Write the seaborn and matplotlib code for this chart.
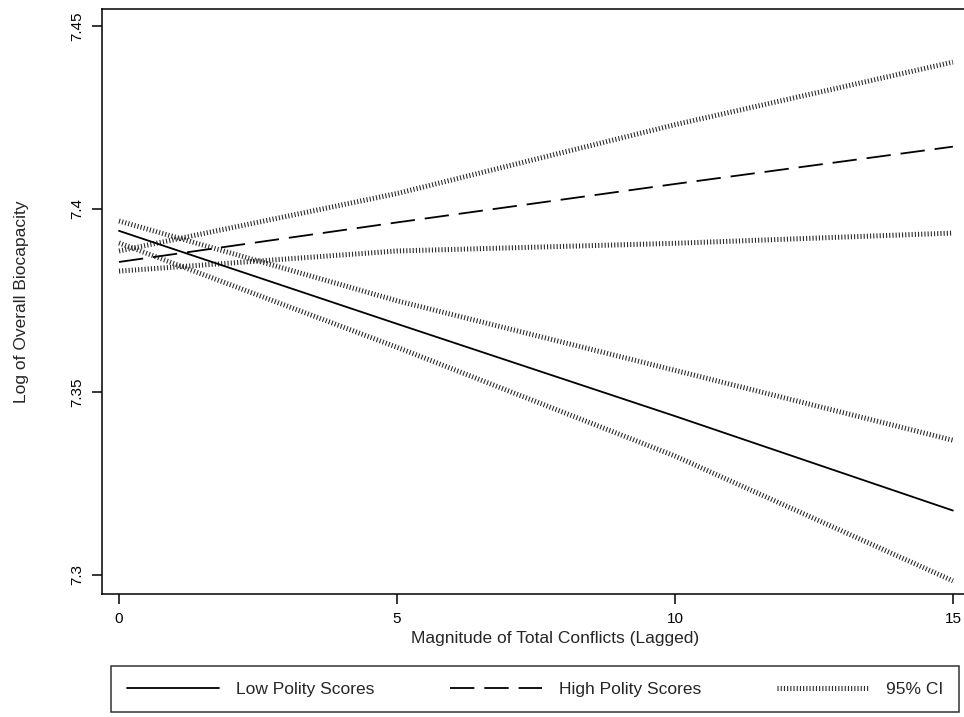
import matplotlib
matplotlib.use("Agg")
import matplotlib.pyplot as plt
import seaborn as sns

# values (margins plot, Stata style)
conflicts = [0, 5, 10, 15]
low_polity = [7.3940, 7.3686, 7.3434, 7.3176]
low_ci_upper = [7.3967, 7.3749, 7.3559, 7.3368]
low_ci_lower = [7.3907, 7.3622, 7.3325, 7.2984]
high_polity = [7.3855, 7.3963, 7.4068, 7.4170]
high_ci_upper = [7.3885, 7.4042, 7.4230, 7.4401]
high_ci_lower = [7.3830, 7.3885, 7.3906, 7.3934]

y_ticks = [7.3, 7.35, 7.4, 7.45]
y_tick_labels = ["7.3", "7.35", "7.4", "7.45"]
x_ticks = [0, 5, 10, 15]

sns.set_theme(style="ticks")
plt.rcParams["font.family"] = ["Liberation Sans", "DejaVu Sans"]

fig = plt.figure(figsize=(9.64, 7.17), dpi=100)
ax = fig.add_axes([102 / 964, 1 - 594 / 717, 1 - 102 / 964, (594 - 9) / 717])

ci_style = dict(color="#2a2a2a", linewidth=3.6, linestyle=(0, (0.22, 0.42)))

# CI lines first so the estimates sit on top
for upper, lower in [(low_ci_upper, low_ci_lower), (high_ci_upper, high_ci_lower)]:
    sns.lineplot(x=conflicts, y=upper, ax=ax, **ci_style)
    sns.lineplot(x=conflicts, y=lower, ax=ax, **ci_style)

sns.lineplot(x=conflicts, y=low_polity, ax=ax, color="black", linewidth=1.3)
sns.lineplot(x=conflicts, y=high_polity, ax=ax, color="black", linewidth=1.3,
             linestyle=(0, (13.5, 5.5)))

ax.set_xlim(-0.306, 15.2)
ax.set_ylim(7.2948, 7.4546)
ax.set_xticks(x_ticks)
ax.set_yticks(y_ticks)
ax.set_yticklabels(y_tick_labels, rotation=90, va="center")
ax.tick_params(axis="both", direction="out", length=7, width=1.1, pad=6,
               labelsize=11, color="black", labelcolor="black")

for side in ["left", "bottom", "top"]:
    ax.spines[side].set_linewidth(1.1)
    ax.spines[side].set_color("black")
ax.spines["right"].set_visible(False)

ax.set_xlabel("Magnitude of Total Conflicts (Lagged)", fontsize=12.5)
ax.set_ylabel("Log of Overall Biocapacity", fontsize=12.5)
ax.xaxis.set_label_coords((555 - 102) / 862, -(638 - 594) / 585)
ax.xaxis.label.set_va("center")
ax.yaxis.set_label_coords((22 - 102) / 862, 0.5)
ax.yaxis.label.set_va("center")

# legend built from the drawn lines
lines = ax.get_lines()
handles = [lines[4], lines[5], lines[0]]
labels = ["Low Polity Scores", "High Polity Scores", "95% CI"]
leg = fig.legend(handles, labels, ncol=3, loc="center",
                 bbox_to_anchor=(111 / 964, 1 - 714 / 717, (959 - 111) / 964, 50 / 717),
                 mode="expand", frameon=True, fancybox=False, edgecolor="black",
                 fontsize=12.5, handlelength=5.3, handletextpad=1.0,
                 borderaxespad=0, borderpad=0.9)
leg.get_frame().set_linewidth(1.1)

fig.savefig("out.png", dpi=100)
